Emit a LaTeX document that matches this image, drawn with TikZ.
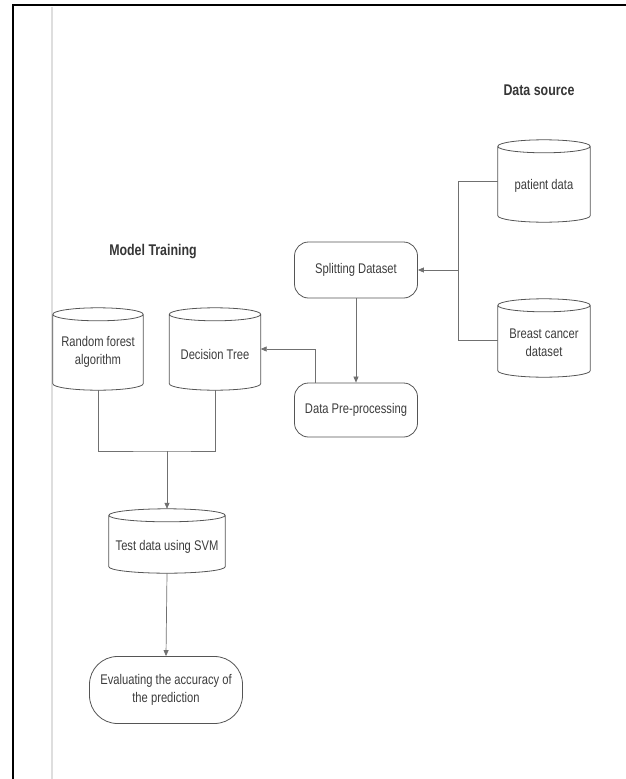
\documentclass[tikz,border=0pt]{standalone}
\usepackage{fontspec}
\setmainfont[FakeStretch=0.8]{Liberation Sans}
\usetikzlibrary{arrows.meta,calc}
\definecolor{txt}{HTML}{3C3C3C}
\definecolor{edge}{HTML}{555555}
\definecolor{lineg}{HTML}{707070}
\begin{document}
\begin{tikzpicture}[x=1pt,y=-1pt,
  every node/.style={font=\fontsize{14}{16}\selectfont, text=txt, align=center, inner sep=0pt},
  title/.style={font=\fontsize{15.5}{18}\selectfont\bfseries, text=txt!90!black},
  dbnode/.style={rectangle, draw=none},
  roundbox/.style={rectangle, draw=edge, line width=0.8pt, rounded corners=14pt},
  conn/.style={draw=lineg, line width=0.7pt},
  arr/.style={conn, -{Triangle[length=6pt,width=5pt]}}
]
\useasboundingbox (0,0) rectangle (626,779);
% frame
\draw[black, line width=2pt] (12,5) -- (626,5);
\draw[black, line width=2pt] (13,5) -- (13,779);
\draw[black!13, line width=2pt] (52,7) -- (52,779);

% titles
\node[title] (ds) at (539,90) {Data source};
\node[title] (mt) at (153,252) {Model Training};

% cylinders (named rectangles, outlines drawn below)
\node[dbnode, minimum width=92pt, minimum height=82pt] (pat) at (544,181) {};
\node[dbnode, minimum width=92pt, minimum height=78pt] (bc) at (544,338) {};
\node[dbnode, minimum width=90pt, minimum height=82pt] (rf) at (98,349) {};
\node[dbnode, minimum width=91pt, minimum height=82pt] (dt) at (215,349) {};
\node[dbnode, minimum width=116pt, minimum height=64pt] (svm) at (167,541) {};

\foreach \c in {pat,bc,rf,dt,svm}{
  \draw[edge, line width=0.8pt]
    let \p1=(\c.north west), \p2=(\c.south east), \n1={(\x2-\x1)/2} in
    (\x1,\y1-6.5pt) -- (\x1,\y2+6.5pt) arc[start angle=180, end angle=360, x radius=\n1, y radius=6.5pt]
    -- (\x2,\y1-6.5pt) arc[start angle=0, end angle=180, x radius=\n1, y radius=6.5pt]
    arc[start angle=180, end angle=360, x radius=\n1, y radius=6.5pt];
}
% texts of the cylinders
\node (patt) at ($(pat)+(0,5)$) {patient data};
\node (bct) at ($(bc)+(0,5)$) {Breast cancer\\[2pt]dataset};
\node (rft) at ($(rf)+(0,3)$) {Random forest\\[2pt]algorithm};
\node (dtt) at ($(dt)+(0,5)$) {Decision Tree};
\node (svmt) at ($(svm)+(0,6)$) {Test data using SVM};

% rounded boxes
\node[roundbox, minimum width=123pt, minimum height=56pt] (split) at (356,270) {Splitting Dataset};
\node[roundbox, minimum width=123pt, minimum height=54pt] (pre) at (356,410) {Data Pre-processing};
\node[roundbox, rounded corners=28pt, minimum width=153pt, minimum height=67pt] (ev) at (166,690) {Evaluating the accuracy of\\[2pt]the prediction};

% connectors
\coordinate (j) at (458,270);
\coordinate (jt) at (458,181);
\coordinate (jb) at (458,340);
\draw[conn] (pat.west) -- (jt) -- (jb) -- (bc.west |- jb);
\draw[arr] (j) -- (split.east);
\draw[arr] (split.south) -- (pre.north);
\coordinate (pt) at ($(pre.north west)+(21,0)$);
\draw[arr] (pt) |- (dt.east);
\coordinate (m) at (167,451);
\draw[conn] (rf.south) |- (m) -| (dt.south);
\draw[arr] (m) -- (svm.north);
\draw[arr] (svm.south) -- (ev.north);
\end{tikzpicture}
\end{document}
